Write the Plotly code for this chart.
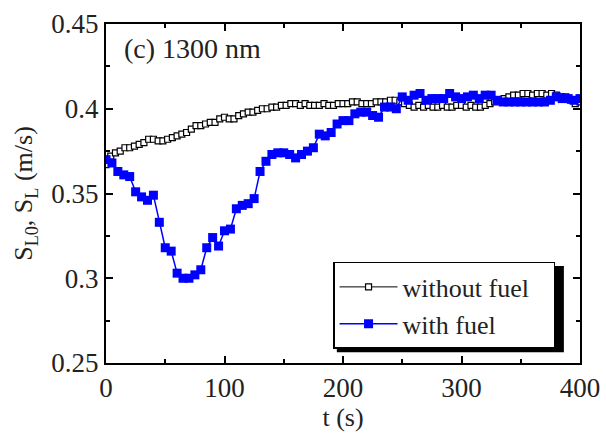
import plotly.graph_objects as go

t_without = [0, 4, 8, 12, 16, 20, 24, 28, 32, 36, 40, 44, 48, 52, 56, 60, 64, 68, 72, 76,
             80, 84, 88, 92, 96, 100, 104, 108, 112, 116, 120, 124, 128, 132, 136, 140, 144, 148, 152, 156,
             160, 164, 168, 172, 176, 180, 184, 188, 192, 196, 200, 204, 208, 212, 216, 220, 224, 228, 232, 236,
             240, 244, 248, 252, 256, 260, 264, 268, 272, 276, 280, 284, 288, 292, 296, 300, 304, 308, 312, 316,
             320, 324, 328, 332, 336, 340, 344, 348, 352, 356, 360, 364, 368, 372, 376, 380, 384, 388, 392, 396, 400]
s_without = [0.367, 0.372, 0.374, 0.375, 0.377, 0.377, 0.378, 0.379, 0.380, 0.382, 0.382, 0.381, 0.381, 0.382, 0.383,
             0.384, 0.385, 0.386, 0.388, 0.390, 0.390, 0.391, 0.392, 0.392, 0.394, 0.395, 0.394, 0.394, 0.396, 0.397,
             0.398, 0.398, 0.399, 0.400, 0.400, 0.401, 0.401, 0.402, 0.402, 0.403, 0.403, 0.402, 0.403, 0.402, 0.402,
             0.402, 0.403, 0.402, 0.402, 0.403, 0.403, 0.403, 0.404, 0.404, 0.403, 0.403, 0.403, 0.404, 0.404, 0.404,
             0.405, 0.405, 0.404, 0.403, 0.402, 0.401, 0.402, 0.401, 0.402, 0.401, 0.401, 0.402, 0.401, 0.401, 0.402,
             0.402, 0.401, 0.402, 0.401, 0.401, 0.402, 0.403, 0.404, 0.405, 0.406, 0.407, 0.408, 0.408, 0.409, 0.409,
             0.408, 0.409, 0.409, 0.408, 0.409, 0.408, 0.407, 0.407, 0.405, 0.403, 0.404]

t_with = [0, 5, 10, 15, 20, 25, 30, 35, 40, 45, 50, 55, 60, 65, 70, 75, 80, 85, 90, 95,
          100, 105, 110, 115, 120, 125, 130, 135, 140, 145, 150, 155, 160, 165, 170, 175, 180, 185, 190, 195,
          200, 205, 210, 215, 220, 225, 230, 235, 240, 245, 250, 255, 260, 265, 270, 275, 280, 285, 290, 295,
          300, 305, 310, 315, 320, 325, 330, 335, 340, 345, 350, 355, 360, 365, 370, 375, 380, 385, 390, 395, 400]
s_with = [0.370, 0.368, 0.363, 0.361, 0.360, 0.351, 0.348, 0.346, 0.349, 0.333, 0.318, 0.316, 0.303, 0.300, 0.300,
          0.302, 0.305, 0.318, 0.324, 0.319, 0.328, 0.329, 0.341, 0.343, 0.344, 0.347, 0.363, 0.369, 0.373, 0.374,
          0.374, 0.373, 0.371, 0.373, 0.375, 0.377, 0.385, 0.384, 0.386, 0.391, 0.393, 0.393, 0.397, 0.398, 0.398,
          0.396, 0.395, 0.401, 0.401, 0.400, 0.407, 0.405, 0.408, 0.409, 0.405, 0.406, 0.406, 0.406, 0.409, 0.407,
          0.406, 0.407, 0.408, 0.406, 0.408, 0.408, 0.405, 0.404, 0.404, 0.404, 0.404, 0.404, 0.404, 0.404, 0.404,
          0.405, 0.407, 0.406, 0.406, 0.405, 0.406]

x_ticks = [0, 100, 200, 300, 400]
y_ticks = [0.25, 0.3, 0.35, 0.4, 0.45]
y_tick_text = ["0.25", "0.3", "0.35", "0.4", "0.45"]

FONT = "Liberation Serif, Times New Roman, serif"
TXT = "#222"
PAD = "\u00a0\u00a0\u00a0"  # non-breaking padding to widen the legend box

fig = go.Figure()
fig.add_trace(go.Scatter(
    x=t_without, y=s_without, mode="lines+markers", name="without fuel" + PAD,
    line=dict(color="black", width=1),
    marker=dict(symbol="square", size=6, color="white", line=dict(color="black", width=1.2)),
))
fig.add_trace(go.Scatter(
    x=t_with, y=s_with, mode="lines+markers", name="with fuel",
    line=dict(color="#0000ff", width=1.5),
    marker=dict(symbol="square", size=9, color="#0000ff", line=dict(width=0)),
))

axis_common = dict(
    showline=True, linecolor="black", linewidth=2, mirror="allticks",
    ticks="inside", ticklen=7, tickwidth=1.5, tickcolor="black",
    showgrid=False, zeroline=False, automargin=False,
    tickfont=dict(family=FONT, size=27, color=TXT),
)

fig.update_xaxes(range=[0, 400], tickvals=x_ticks, ticktext=[str(v) for v in x_ticks],
                 minor=dict(ticks="inside", ticklen=4, tickwidth=1.5, tickcolor="black", dtick=50, tick0=0),
                 title=dict(text="t (s)", font=dict(family=FONT, size=26, color=TXT), standoff=4),
                 **axis_common)
fig.update_yaxes(range=[0.25, 0.45], tickvals=y_ticks, ticktext=y_tick_text,
                 minor=dict(ticks="inside", ticklen=4, tickwidth=1.5, tickcolor="black", dtick=0.025, tick0=0.25),
                 title=dict(text="S<sub>L0</sub>, S<sub>L</sub> (m/s)", font=dict(family=FONT, size=26, color=TXT), standoff=11),
                 **axis_common)

fig.add_annotation(text="(c) 1300 nm", xref="paper", yref="paper", x=0.033, y=0.978,
                   xanchor="left", yanchor="top", showarrow=False,
                   font=dict(family=FONT, size=28, color=TXT))

# legend drop shadow
fig.add_shape(type="rect", xref="paper", yref="paper", x0=0.487, x1=0.966, y0=0.032, y1=0.286,
              fillcolor="black", line=dict(width=0), layer="above")

fig.update_layout(
    width=606, height=436,
    margin=dict(l=106, r=26, t=24, b=73),
    paper_bgcolor="white", plot_bgcolor="white",
    font=dict(family=FONT, color=TXT),
    legend=dict(x=0.479, y=0.298, xanchor="left", yanchor="top",
                bgcolor="white", bordercolor="black", borderwidth=1.5,
                font=dict(family=FONT, size=26, color=TXT),
                itemwidth=58, tracegroupgap=0),
)

fig.write_html("out.html", config={"displayModeBar": False},
               post_script="document.body.style.margin='0';")
